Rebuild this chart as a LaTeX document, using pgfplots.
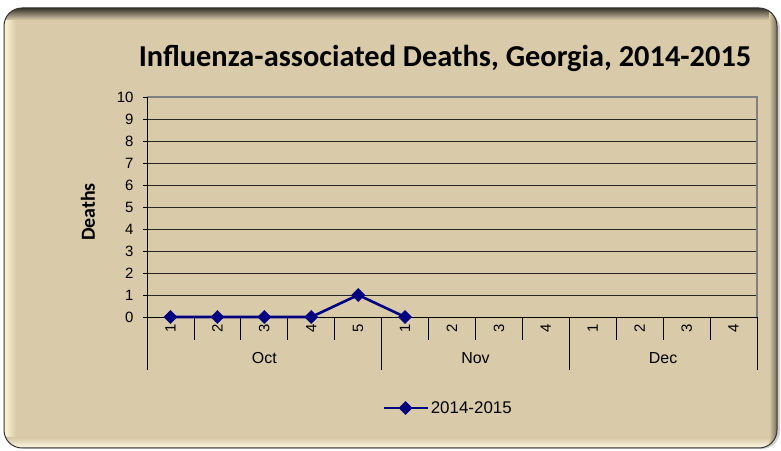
\documentclass[border=0pt]{standalone}
\usepackage{pgfplots}
\pgfplotsset{compat=1.18}
\usepackage{fontspec}
\setmainfont{Liberation Sans}
\newfontfamily\calibri{Carlito}
\definecolor{bgtan}{HTML}{D9CAA9}
\definecolor{glow}{HTML}{FFF7D6}
\definecolor{navyline}{HTML}{000080}
\begin{document}
\begin{tikzpicture}
\useasboundingbox (0bp,0bp) rectangle (781bp,451bp);
\fill[white] (0bp,0bp) rectangle (781bp,451bp);
\fill[black!18, rounded corners=18bp] (8bp,2bp) rectangle (780bp,440bp);
\begin{scope}
\clip[rounded corners=18bp] (4bp,3bp) rectangle (777bp,443bp);
\fill[bgtan] (4bp,3bp) rectangle (777bp,443bp);
\shade[left color=glow, right color=bgtan] (4bp,3bp) rectangle (16bp,443bp);
\shade[bottom color=glow!60!white, top color=bgtan] (4bp,3bp) rectangle (777bp,13bp);
\shade[top color=black!75!bgtan, bottom color=bgtan] (4bp,431bp) rectangle (777bp,443bp);
\shade[right color=black!45!bgtan, left color=bgtan] (769bp,3bp) rectangle (777bp,443bp);
\end{scope}
\draw[black!80, line width=1bp, rounded corners=18bp] (4bp,3bp) rectangle (777bp,443bp);
\begin{axis}[
  at={(147bp,134bp)}, anchor=south west,
  scale only axis, width=610bp, height=220bp,
  xmin=-0.5, xmax=12.5, ymin=0, ymax=10,
  ytick={0,...,10}, ymajorgrids,
  major grid style={black!85, line width=0.7bp},
  axis line style={draw=none},
  tick align=outside, ytick pos=left, xtick pos=bottom,
  xtick={0,...,12},
  xticklabels={1,2,3,4,5,1,2,3,4,1,2,3,4},
  xtick style={draw=none},
  ytick style={black, line width=0.8bp},
  major tick length=4bp,
  /pgf/number format/assume math mode=true,
  yticklabel style={font=\fontsize{15}{15}\selectfont, xshift=-6bp},
  xticklabel style={font=\fontsize{15}{15}\selectfont, rotate=90, anchor=east},
  legend style={at={(axis description cs:0.5,0)}, anchor=center, yshift=-91bp, xshift=-4bp,
    draw=none, fill=none, font=\fontsize{17}{17}\selectfont},
  legend image code/.code={\draw[#1, mark repeat=2, mark phase=2] plot coordinates {(0bp,0bp) (22bp,0bp) (44bp,0bp)};},
  clip=false,
]
\draw[gray, line width=1.2bp] (rel axis cs:0,1) -- (rel axis cs:1,1) -- (rel axis cs:1,0);
\draw[black, line width=1bp] (rel axis cs:1,0) -- (rel axis cs:0,0) -- (rel axis cs:0,1);
\pgfplotsinvokeforeach{0.5,1.5,2.5,3.5,5.5,6.5,7.5,9.5,10.5,11.5}{
  \draw[black, line width=0.8bp] (axis cs:#1,0) -- ([yshift=-23bp]axis cs:#1,0);
}
\pgfplotsinvokeforeach{-0.5,4.5,8.5,12.5}{
  \draw[black, line width=0.8bp] (axis cs:#1,0) -- ([yshift=-53bp]axis cs:#1,0);
}
\node[font=\fontsize{16}{16}\selectfont] at ([yshift=-41bp]axis cs:2,0) {Oct};
\node[font=\fontsize{16}{16}\selectfont] at ([yshift=-41bp]axis cs:6.5,0) {Nov};
\node[font=\fontsize{16}{16}\selectfont] at ([yshift=-41bp]axis cs:10.5,0) {Dec};
\addplot[navyline, line width=2.6bp, mark=square*, mark size=4.6bp, mark options={rotate=45, line width=0.5bp}]
  coordinates {(0,0) (1,0) (2,0) (3,0) (4,1) (5,0)};
\addlegendentry{2014-2015}
\end{axis}
\node[font=\calibri\bfseries\fontsize{30.5}{34}\selectfont] at (445bp,393bp) {Influenza-associated Deaths, Georgia, 2014-2015};
\node[rotate=90, font=\calibri\bfseries\fontsize{20}{20}\selectfont] at (88bp,239bp) {Deaths};
\end{tikzpicture}
\end{document}
